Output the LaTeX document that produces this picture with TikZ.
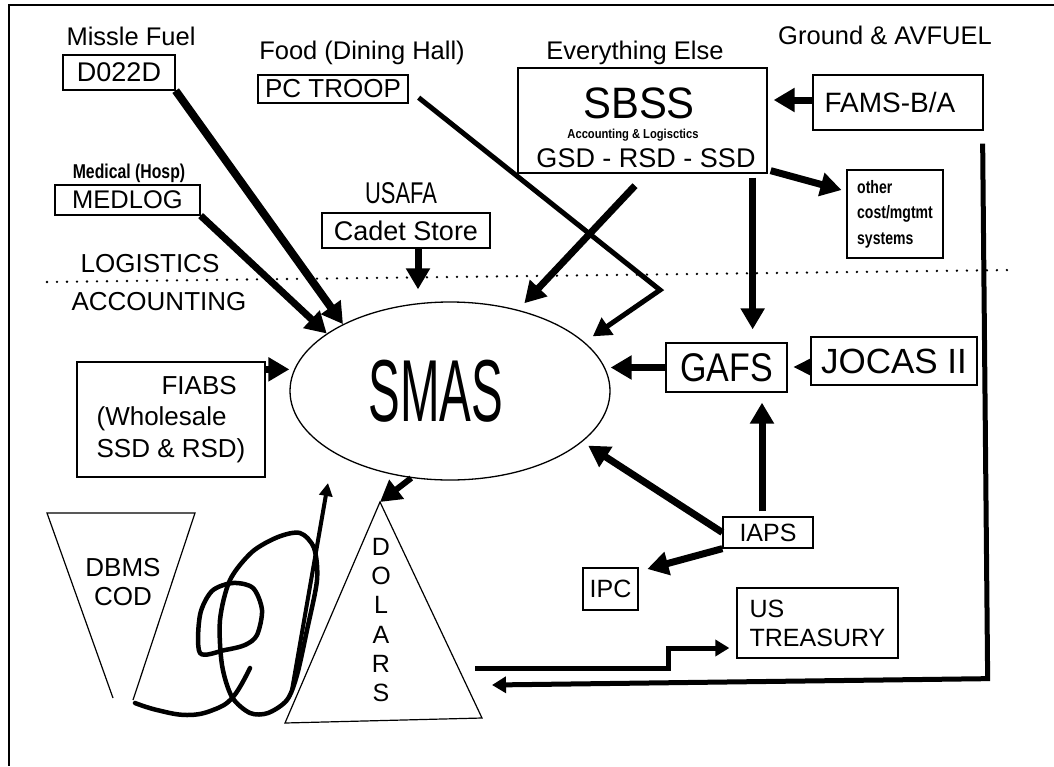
\documentclass[tikz,border=0pt]{standalone}
\usepackage{fontspec}
\setmainfont{Liberation Sans}
\usepackage{graphicx}
\usetikzlibrary{arrows.meta,shapes.geometric}

\newcommand{\fsz}[1]{\fontsize{#1}{1.15\dimexpr #1pt\relax}\selectfont}

\begin{document}
\begin{tikzpicture}[x=1pt,y=-1pt,
  box/.style={draw,line width=1.3pt,inner sep=0pt,align=center},
  lbl/.style={anchor=base,inner sep=0pt},
  hdr/.style={lbl,font=\fsz{25.5}},
  flow/.style={line width=7pt,-{Triangle[length=21pt,width=23pt]}},
  thinflow/.style={line width=5pt,-{Triangle[length=18pt,width=20pt]}},
  pipe/.style={line width=5pt,-{Triangle[length=14pt,width=16pt]}},
  scrawl/.style={line width=4.5pt,line cap=round,line join=round}]
  \useasboundingbox (0,0) rectangle (1054,766);
  % Frame
  \draw[line width=2.5pt] (1054,5) -- (9,5) -- (9,766);
  % Headings
  \node[hdr] (hfuel) at (131,45) {Missle Fuel};
  \node[hdr] (hfood) at (362,59) {Food (Dining Hall)};
  \node[hdr] (helse) at (635,59) {Everything Else};
  \node[hdr] (hground) at (885,44) {Ground \& AVFUEL};
  \node[lbl,font=\fsz{20}\bfseries] (hmed) at (129,178)
    {\scalebox{0.79}[1]{Medical (Hosp)}};
  \node[lbl,font=\fsz{30}] (husafa) at (401,203)
    {\scalebox{0.73}[1]{USAFA}};
  \node[lbl,font=\fsz{26}] (logi) at (150,272) {LOGISTICS};
  \node[lbl,font=\fsz{26}] (acct) at (159,310) {ACCOUNTING};
  % Divider
  \draw[line width=2.6pt,line cap=round,dash pattern=on 0pt off 10pt]
    (47,282) -- (1015,270);
  % Boxes
  \node[box,minimum width=112pt,minimum height=35pt,font=\fsz{27}] (d022d)
    at (119,72.5) {D022D};
  \node[box,minimum width=150pt,minimum height=28pt,font=\fsz{26}] (pctroop)
    at (333,89) {PC TROOP};
  \node[box,minimum width=145pt,minimum height=30pt,font=\fsz{25.5}] (medlog)
    at (127.5,200) {MEDLOG};
  \node[box,minimum width=168pt,minimum height=35pt,font=\fsz{27}] (cadet)
    at (406,230.5) {Cadet Store};
  \node[box,minimum width=249pt,minimum height=105pt] (sbss) at (642.5,120.5) {};
  \node[lbl,font=\fsz{44}] (sbsstitle) at (639,118)
    {\scalebox{0.95}[1]{SBSS}};
  \node[lbl,font=\fsz{13}\bfseries] (sbssnote) at (633,138.5)
    {\scalebox{0.86}[1]{Accounting \& Logisctics}};
  \node[lbl,font=\fsz{27}] (sbsssub) at (646,167) {GSD - RSD - SSD};
  \node[box,minimum width=170pt,minimum height=55pt,font=\fsz{28}] (fams)
    at (898,102.5) {FAMS-B/A\hspace*{16pt}};
  \node[box,minimum width=96pt,minimum height=88pt,align=left,
    font=\fontsize{18}{25.5}\selectfont\bfseries] (other) at (895,214)
    {\scalebox{0.78}[1]{other}\\\scalebox{0.78}[1]{cost/mgtmt}\\
     \scalebox{0.78}[1]{systems}};
  \node[box,minimum width=188pt,minimum height=115pt,align=left,
    font=\fontsize{26}{31.5}\selectfont] (fiabs) at (171,419.5)
    {\hspace*{65pt}FIABS\\(Wholesale\\SSD \& RSD)};
  \node[draw,ellipse,line width=1.3pt,inner sep=0pt,minimum width=320pt,
    minimum height=178pt,font=\fsz{88}] (smas) at (450,391)
    {\scalebox{0.54}[1]{SMAS}\hspace*{28pt}};
  \node[box,minimum width=121pt,minimum height=49pt,font=\fsz{40}] (gafs)
    at (726.5,367.5) {\scalebox{0.85}[1]{GAFS}};
  \node[box,minimum width=166pt,minimum height=48pt,font=\fsz{35}] (jocas)
    at (894,361) {JOCAS II};
  \node[box,minimum width=90pt,minimum height=31pt,font=\fsz{25}] (iaps)
    at (768,532.5) {IAPS};
  \node[box,minimum width=55pt,minimum height=42pt,font=\fsz{25}] (ipc)
    at (610.5,589) {IPC};
  \node[box,minimum width=161pt,minimum height=70pt,align=left,
    font=\fontsize{25}{29}\selectfont] (ustreas) at (817.5,623) {US\\TREASURY};
  % Funnel and triangle
  \draw[line width=1.2pt] (113,698) -- (47,513) -- (195,513) -- (133,700);
  \node[align=center,inner sep=0pt,font=\fontsize{26}{29}\selectfont] (dbms)
    at (123,582) {DBMS\\COD};
  \coordinate (dtop) at (380,502);
  \draw[line width=1.2pt] (dtop) -- (285,723) -- (482,718) -- cycle;
  \node[align=center,inner sep=0pt,font=\fontsize{25}{29.2}\selectfont] (dollars)
    at (381,620) {D\\O\\L\\A\\R\\S};
  % Into SMAS
  \draw[flow,line width=8pt] (d022d.south east) -- (smas.148);
  \draw[flow] (medlog.south east) -- (smas.155);
  \draw[flow,shorten >=12pt] ([xshift=12pt]cadet.south)
    -- ([xshift=12pt]cadet.south |- smas.north);
  \draw[flow,shorten >=9pt] ([xshift=-7.5pt,yshift=-12pt]sbss.south) -- (smas.50);
  \coordinate (bend) at (660,290);
  \draw[thinflow,shorten >=10pt] ([xshift=10pt,yshift=6pt]pctroop.south east)
    -- (bend) -- (smas.20);
  \draw[flow] ([yshift=-8pt]fiabs.north east) -- ([yshift=-8pt]fiabs.north east -| smas.west);
  \draw[flow] (gafs.west) -- (gafs.west -| smas.east);
  \draw[flow,shorten >=7pt] (iaps.west) -- (smas.-21);
  % SBSS side
  \draw[flow,shorten >=6pt] ([yshift=2.5pt]fams.west) -- ([yshift=2.5pt]fams.west -| sbss.east);
  \draw[flow,shorten >=5pt] ([shift={(3pt,3pt)}]sbss.south east)
    -- ([yshift=-22pt]other.north west);
  \draw[flow,shorten >=13pt,shorten <=4pt] ([xshift=-15pt]sbss.south east)
    -- ([xshift=-15pt]sbss.south east |- gafs.north);
  % GAFS side
  \draw[line width=1pt,-{Triangle[length=17pt,width=17pt]},shorten >=6pt]
    ([yshift=-6pt]jocas.west) -- ([yshift=-6pt]jocas.west -| gafs.east);
  \draw[flow,shorten >=10pt,shorten <=5pt] ([xshift=-6pt]iaps.north)
    -- ([xshift=-6pt]iaps.north |- gafs.south);
  \draw[flow,shorten >=9pt] (iaps.south west) -- ([yshift=-4pt]ipc.north east);
  % Dollars
  \draw[flow,line width=6pt] (smas.246) -- (dtop);
  \coordinate (dout) at (475,668);
  \draw[pipe,shorten >=7pt] (dout) -- ++(193,0) |- ([yshift=-25pt]ustreas.west);
  \coordinate (dret) at (492,685);
  \draw[pipe] ([shift={(-1pt,-13pt)}]fams.south east) -- ++(5,535) -- (dret);
  % Scrawl
  \draw[scrawl] plot[smooth,tension=0.7] coordinates
    {(135,703) (157,710) (187,715) (213,710) (233,697) (250,668)};
  \draw[scrawl] plot[smooth cycle] coordinates
    {(200,653) (200,615) (212,591) (233,583) (253,588) (262,610) (257,635)
     (245,645) (225,650)};
  \draw[scrawl] plot[smooth cycle] coordinates
    {(220,620) (222,665) (232,697) (250,713) (268,713) (287,700) (297,675)
     (307,630) (317,580) (314,548) (300,533) (278,537) (252,552) (230,580)};
  \coordinate (sqtip) at (328,483);
  \draw[line width=4pt,-{Triangle[length=13pt,width=13pt]}] (292,690) -- (sqtip);
\end{tikzpicture}
\end{document}
